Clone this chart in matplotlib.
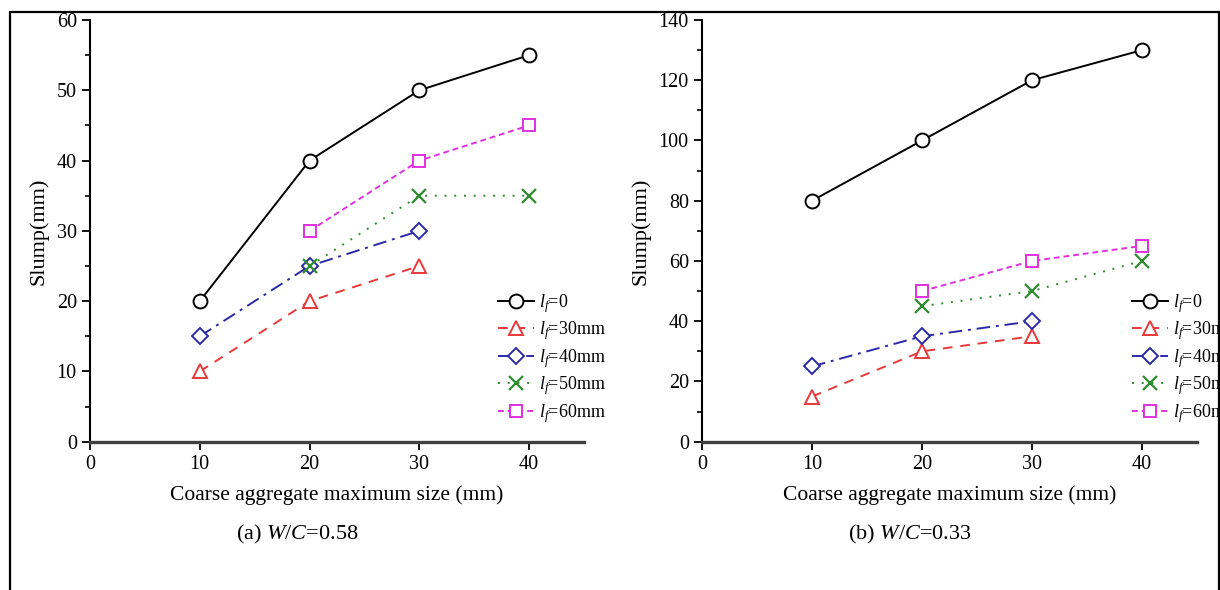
import matplotlib
matplotlib.use("Agg")
import matplotlib.pyplot as plt
from matplotlib.patches import Rectangle
from matplotlib.ticker import MultipleLocator

plt.rcParams['font.family'] = ['Liberation Serif', 'DejaVu Serif']
plt.rcParams['mathtext.fontset'] = 'custom'
plt.rcParams['mathtext.rm'] = 'Liberation Serif'
plt.rcParams['mathtext.it'] = 'Liberation Serif:italic'

# coarse aggregate size (mm) and slump (mm) for each fibre length
size_all = [10, 20, 30, 40]
size_short = [10, 20, 30]
size_long = [20, 30, 40]

# (a) W/C = 0.58
a_lf0 = [20, 40, 50, 55]
a_lf30 = [10, 20, 25]
a_lf40 = [15, 25, 30]
a_lf50 = [25, 35, 35]
a_lf60 = [30, 40, 45]

# (b) W/C = 0.33
b_lf0 = [80, 100, 120, 130]
b_lf30 = [15, 30, 35]
b_lf40 = [25, 35, 40]
b_lf50 = [45, 50, 60]
b_lf60 = [50, 60, 65]

labels = [r'$l_f$=0', r'$l_f$=30mm', r'$l_f$=40mm', r'$l_f$=50mm', r'$l_f$=60mm']

styles = [
    dict(color='black', ls='-', marker='o', ms=10),
    dict(color='#e8383a', ls=(0, (5, 4)), marker='^', ms=10),
    dict(color='#2a2aa8', ls=(0, (7, 3, 1.5, 3)), marker='D', ms=8.5),
    dict(color='#2e8b2e', ls=(0, (1, 4)), marker='x', ms=10, mew=1.6),
    dict(color='#e030e0', ls=(0, (3, 2)), marker='s', ms=8.5),
]

fig = plt.figure(figsize=(12.2, 5.9), dpi=100)

# outer frame
fig.patches.append(Rectangle((10 / 1220, -0.1), 1209 / 1220, 0.1 + (590 - 12) / 590,
                             transform=fig.transFigure, fill=False,
                             edgecolor='black', lw=1.6, zorder=0))

ax_a = fig.add_axes([90 / 1220, 1 - 441.7 / 590, 494 / 1220, 421.7 / 590])
ax_b = fig.add_axes([702 / 1220, 1 - 441.7 / 590, 495 / 1220, 421.7 / 590])


def draw(ax, series, ymax, ystep, caption, leg_anchor):
    xs = [size_all, size_short, size_short, size_long, size_long]
    for x, y, st, lab in zip(xs, series, styles, labels):
        kw = dict(st)
        kw.setdefault('mew', 1.4)
        ax.plot(x, y, lw=1.4, mfc='white', mec=kw['color'], label=lab, **kw)

    ax.set_xlim(0, 45)
    ax.set_ylim(0, ymax)
    ax.xaxis.set_major_locator(MultipleLocator(10))
    ax.yaxis.set_major_locator(MultipleLocator(ystep))
    ax.yaxis.set_minor_locator(MultipleLocator(ystep / 2))
    ax.spines['top'].set_visible(False)
    ax.spines['right'].set_visible(False)
    ax.spines['bottom'].set_linewidth(2.4)
    ax.spines['bottom'].set_color('#404040')
    ax.spines['left'].set_linewidth(1.5)
    ax.tick_params(which='major', direction='out', length=6, width=1.3, labelsize=14.5)
    ax.tick_params(which='minor', direction='out', length=3.5, width=1.2)
    ax.set_ylabel('Slump(mm)', fontsize=16, labelpad=6)
    ax.set_xlabel('Coarse aggregate maximum size (mm)', fontsize=15.5, labelpad=8)
    ax.text(0.42, -0.22, caption, transform=ax.transAxes, fontsize=16,
            ha='center', va='center')
    ax.legend(loc='upper left', bbox_to_anchor=leg_anchor, frameon=False,
              fontsize=13, handlelength=2.0, handletextpad=0.3,
              labelspacing=0.25, borderpad=0, borderaxespad=0)


draw(ax_a, [a_lf0, a_lf30, a_lf40, a_lf50, a_lf60], 60, 10,
     r'(a) $W$/$C$=0.58', (0.825, 0.355))
draw(ax_b, [b_lf0, b_lf30, b_lf40, b_lf50, b_lf60], 140, 20,
     r'(b) $W$/$C$=0.33', (0.868, 0.355))

fig.savefig('out.png', dpi=100)
